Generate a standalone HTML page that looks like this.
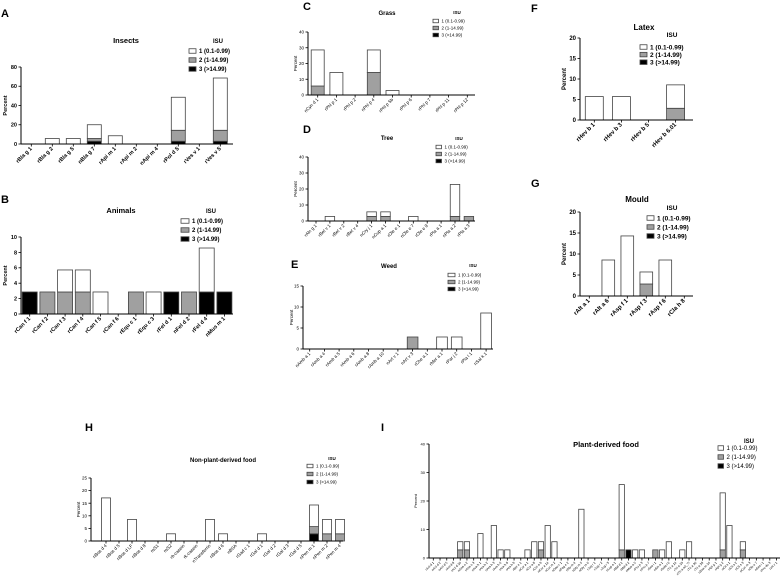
<!DOCTYPE html>
<html><head><meta charset="utf-8"><style>
html,body{margin:0;padding:0;background:#fff;}
svg{display:block;font-family:"Liberation Sans",Arial,sans-serif;}
</style></head><body>
<svg id="fig" width="782" height="586" viewBox="0 0 782 586" xmlns="http://www.w3.org/2000/svg"></svg>
<script>
// ---- Data (percent per ISU class) ----
const insectsCats = ["rBla g 1","rBla g 2","rBla g 5","nBla g 7","rApi m 1","rApi m 2","nApi m 4","rPol d 5","rVes v 1","rVes v 5"];
const insectsIsu1 = [0,5.71,5.71,14.3,8.57,0,0,34.3,0,54.3];
const insectsIsu2 = [0,0,0,2.86,0,0,0,11.4,0,11.4];
const insectsIsu3 = [0,0,0,2.86,0,0,0,2.86,0,2.86];
const insectsTicks = [0,20,40,60,80];

const animalsCats = ["rCan f 1","rCan f 2","rCan f 3","rCan f 4","rCan f 5","rCan f 6","rEqu c 1","rEqu c 3","rFel d 1","nFel d 2","rFel d 4","nMus m 1"];
const animalsIsu1 = [0,0,2.86,2.86,2.86,0,0,2.86,0,0,5.71,0];
const animalsIsu2 = [0,2.86,2.86,2.86,0,0,2.86,0,0,2.86,0,0];
const animalsIsu3 = [2.86,0,0,0,0,0,0,0,2.86,0,2.86,2.86];
const animalsTicks = [0,2,4,6,8,10];

const grassCats = ["nCyn d 1","rPhl p 1","rPhl p 2","nPhl p 4","rPhl p 5b","rPhl p 6","rPhl p 7","rPhl p 11","rPhl p 12"];
const grassIsu1 = [22.9,14.3,0,14.3,2.86,0,0,0,0];
const grassIsu2 = [5.71,0,0,14.3,0,0,0,0,0];
const grassIsu3 = [0,0,0,0,0,0,0,0,0];
const grassTicks = [0,10,20,30,40];

const treeCats = ["rAln g 1","rBet v 1","rBet v 2","rBet v 4","nCry j 1","nCup a 1","rOle e 1","nOle e 7","rOle e 9","rPla a 1","nPla a 2","rPla a 3"];
const treeIsu1 = [0,2.86,0,0,2.86,2.86,0,2.86,0,0,20,0];
const treeIsu2 = [0,0,0,0,2.86,2.86,0,0,0,0,2.86,2.86];
const treeIsu3 = [0,0,0,0,0,0,0,0,0,0,0,0];
const treeTicks = [0,10,20,30,40];

const weedCats = ["nAmb a 1","rAmb a 4","rAmb a 5","rAmb a 6","rAmb a 8","rAmb a 10","nArt v 1","nArt v 3","rChe a 1","rMer a 1","rPar j 2","rPla l 1","nSal k 1"];
const weedIsu1 = [0,0,0,0,0,0,0,0,0,2.86,2.86,0,8.57];
const weedIsu2 = [0,0,0,0,0,0,0,2.86,0,0,0,0,0];
const weedIsu3 = [0,0,0,0,0,0,0,0,0,0,0,0,0];
const weedTicks = [0,5,10,15];

const latexCats = ["rHev b 1","rHev b 3","rHev b 5","rHev b 6.01"];
const latexIsu1 = [5.71,5.71,0,5.71];
const latexIsu2 = [0,0,0,2.86];
const latexIsu3 = [0,0,0,0];
const latexTicks = [0,5,10,15,20];

const mouldCats = ["rAlt a 1","rAlt a 6","rAsp f 1","rAsp f 3","rAsp f 6","rCla h 8"];
const mouldIsu1 = [0,8.57,14.3,2.86,8.57,0];
const mouldIsu2 = [0,0,0,2.86,0,0];
const mouldIsu3 = [0,0,0,0,0,0];
const mouldTicks = [0,5,10,15,20];

const nonPlantCats = ["nBos d 4","nBos d 5","nBos d LF","nBos d 8","rαS1","rαS2","rb-casein","rk-casein","nTransferrin","nBos d 6","nBSA","rGad c 1","rGal d 1","rGal d 2","rGal d 3","rGal d 5","nPen m 1","nPen m 2","nPen m 4"];
const nonPlantIsu1 = [17.1,0,8.57,0,0,2.86,0,0,8.57,2.86,0,0,2.86,0,0,0,8.57,5.71,5.71];
const nonPlantIsu2 = [0,0,0,0,0,0,0,0,0,0,0,0,0,0,0,0,2.86,2.86,2.86];
const nonPlantIsu3 = [0,0,0,0,0,0,0,0,0,0,0,0,0,0,0,0,2.86,0,0];
const nonPlantTicks = [0,5,10,15,20,25];

const plantCats = ["rAct d 1","nAct d 2","nAct d 5","rAct d 8","rAct d 10","nAna o 2","rAna o 3","nAra h 1","rAra h 2","nAra h 3","rAra h 6","rAra h 8","rAra h 9","rBer e 1","nCor a 1","rCor a 8","rCor a 9","nCor a 14","rCuc m 2","nDau c 1","nFag e 2","rGly m 4","nGly m 5","nGly m 6","rJug r 1","rJug r 2","rJug r 3","nLup a 1","rMal d 1","rMal d 2","nMus a 5","rPru p 3","nPru p 7","rSes i 1","nSin a 1","rSola l 6","rTri a 14","rTri a 19","nTri a aA_TI","rTri a 36","rTri a 28","nZea m 14","rApi g 1","rApi g 2","nCit s 1","nCit s 2","nCit s 3","nCuc m 3","rOle e 7","nSes i 1","rPru du 3","rVit v 1"];
const plantIsu1 = [0,0,0,0,2.86,2.86,0,8.57,0,11.4,2.86,2.86,0,0,2.86,5.71,2.86,11.4,5.71,0,0,0,17.1,0,0,0,0,0,22.9,0,2.86,2.86,0,0,2.86,5.71,0,2.86,5.71,0,0,0,0,20,11.4,0,2.86,0,0,0,0,0];
const plantIsu2 = [0,0,0,0,2.86,2.86,0,0,0,0,0,0,0,0,0,0,2.86,0,0,0,0,0,0,0,0,0,0,0,2.86,0,0,0,0,2.86,0,0,0,0,0,0,0,0,0,2.86,0,0,2.86,0,0,0,0,0];
const plantIsu3 = [0,0,0,0,0,0,0,0,0,0,0,0,0,0,0,0,0,0,0,0,0,0,0,0,0,0,0,0,0,2.86,0,0,0,0,0,0,0,0,0,0,0,0,0,0,0,0,0,0,0,0,0,0];
const plantTicks = [0,10,20,30,40];

const legendLabels = ["1 (0.1-0.99)","2 (1-14.99)","3 (>14.99)"];
const fills = ["#ffffff","#a0a0a0","#000000"];

const NS = "http://www.w3.org/2000/svg";
const svg = document.getElementById("fig");
function mk(tag, attrs, parent) {
  const e = document.createElementNS(NS, tag);
  for (const k in attrs) e.setAttribute(k, attrs[k]);
  (parent || svg).appendChild(e);
  return e;
}

function panel(p) {
  const g = mk("g", {});
  
  
  const ymax = p.ticks[p.ticks.length - 1];
  const yS = v => p.y0 - (v / ymax) * (p.y0 - p.yTop);
  const xS = i => p.c0 + i * p.pitch;
  const fw = p.bold ? "bold" : "normal";
  // letter
  const L = mk("text", {x: p.lx, y: p.ly, "font-size": 11, "font-weight": "bold", fill: "#000"}, g);
  L.textContent = p.letter;
  
  
  // bars
  for (let i = 0; i < p.cats.length; i++) {
    const layers = [p.v3[i], p.v2[i], p.v1[i]];
    const cols = [fills[2], fills[1], fills[0]];
    let base = 0;
    for (let k = 0; k < 3; k++) {
      const v = layers[k];
      if (v > 0) {
        const r = mk("rect", {x: xS(i) - p.bw / 2, y: yS(base + v), width: p.bw, height: yS(base) - yS(base + v), fill: cols[k], stroke: "#444", "stroke-width": 0.8}, g);
        
        
        base += v;
      }
    }
  }
  // axes
  const ya = mk("line", {x1: p.x0, y1: p.yTop, x2: p.x0, y2: p.y0, stroke: "#000", "stroke-width": 1}, g);
  
  
  const xa = mk("line", {x1: p.x0, y1: p.y0, x2: p.xEnd, y2: p.y0, stroke: "#000", "stroke-width": 1}, g);
  
  
  for (const t of p.ticks) {
    mk("line", {x1: p.x0 - 2.5, y1: yS(t), x2: p.x0, y2: yS(t), stroke: "#000", "stroke-width": 0.8}, g);
    const tt = mk("text", {x: p.x0 - 4, y: yS(t) + p.fs * 0.35, "font-size": p.fs, "text-anchor": "end", "font-weight": fw}, g);
    tt.textContent = t;
    
    
  }
  for (let i = 0; i < p.cats.length; i++) {
    mk("line", {x1: xS(i), y1: p.y0, x2: xS(i), y2: p.y0 + 2.5, stroke: "#000", "stroke-width": 0.8}, g);
    const tl = mk("text", {x: xS(i) + 1, y: p.y0 + 5, "font-size": p.xfs, "text-anchor": "end", "font-weight": fw, transform: `rotate(-45 ${xS(i) + 1} ${p.y0 + 5})`}, g);
    tl.textContent = p.cats[i];
    
    
  }
  const yl = mk("text", {x: p.ylx, y: (p.y0 + p.yTop) / 2, "font-size": p.fs, "text-anchor": "middle", "font-weight": fw, transform: `rotate(-90 ${p.ylx} ${(p.y0 + p.yTop) / 2})`}, g);
  yl.textContent = "Percent";
  
  
  const ti = mk("text", {x: p.tx, y: p.ty, "font-size": p.tfs, "text-anchor": "middle", "font-weight": "bold"}, g);
  ti.textContent = p.title;
  
  
  const isu = mk("text", {x: p.isuX, y: p.isuY, "font-size": p.lfs, "text-anchor": "middle", "font-weight": "bold"}, g);
  isu.textContent = "ISU";
  
  
  for (let k = 0; k < 3; k++) {
    const ry = p.legY + k * p.legDy;
    const lg = mk("g", {}, g);
    
    
    mk("rect", {x: p.legX, y: ry - p.lbh / 2, width: p.lbw, height: p.lbh, fill: fills[k], stroke: "#444", "stroke-width": 0.8}, lg);
    const lt = mk("text", {x: p.legX + p.lbw + 3, y: ry + p.lfs * 0.35, "font-size": p.lfs, "font-weight": fw}, lg);
    lt.textContent = legendLabels[k];
  }
}

panel({name:"insects", letter:"A", lx:1, ly:17, cats:insectsCats, v1:insectsIsu1, v2:insectsIsu2, v3:insectsIsu3, ticks:insectsTicks,
  x0:21, y0:144, yTop:67, xEnd:233, c0:31.3, pitch:21, bw:14, fs:5.5, xfs:5.5, bold:true, ylx:7,
  title:"Insects", tx:126, ty:43, tfs:7.5, isuX:218, isuY:43, lfs:6, legX:189, legY:51, legDy:9, lbw:7, lbh:4.5});
panel({name:"animals", letter:"B", lx:1, ly:203, cats:animalsCats, v1:animalsIsu1, v2:animalsIsu2, v3:animalsIsu3, ticks:animalsTicks,
  x0:21, y0:314, yTop:237, xEnd:233, c0:29.7, pitch:17.7, bw:15, fs:5.5, xfs:5.5, bold:true, ylx:7,
  title:"Animals", tx:121, ty:213, tfs:7.5, isuX:211, isuY:213, lfs:6, legX:181, legY:221, legDy:9, lbw:8, lbh:4.5});
panel({name:"grass", letter:"C", lx:303, ly:10, cats:grassCats, v1:grassIsu1, v2:grassIsu2, v3:grassIsu3, ticks:grassTicks,
  x0:308, y0:95, yTop:32, xEnd:475, c0:317.7, pitch:18.7, bw:13, fs:4.5, xfs:4.5, bold:false, ylx:297,
  title:"Grass", tx:387, ty:15, tfs:6, isuX:457, isuY:14, lfs:4.5, legX:433, legY:21, legDy:7, lbw:5.5, lbh:3.5});
panel({name:"tree", letter:"D", lx:303, ly:133, cats:treeCats, v1:treeIsu1, v2:treeIsu2, v3:treeIsu3, ticks:treeTicks,
  x0:308, y0:221, yTop:157, xEnd:475, c0:316, pitch:13.9, bw:9.5, fs:4.5, xfs:4.5, bold:false, ylx:297,
  title:"Tree", tx:387, ty:140, tfs:6, isuX:459, isuY:140, lfs:4.5, legX:436, legY:147, legDy:7, lbw:5.5, lbh:3.5});
panel({name:"weed", letter:"E", lx:291, ly:268, cats:weedCats, v1:weedIsu1, v2:weedIsu2, v3:weedIsu3, ticks:weedTicks,
  x0:303, y0:349, yTop:286, xEnd:493, c0:309.7, pitch:14.7, bw:10.7, fs:4.5, xfs:4.5, bold:false, ylx:293,
  title:"Weed", tx:389, ty:268, tfs:6, isuX:473, isuY:267, lfs:4.5, legX:448, legY:275, legDy:7, lbw:7, lbh:3.5});
panel({name:"latex", letter:"F", lx:531, ly:12, cats:latexCats, v1:latexIsu1, v2:latexIsu2, v3:latexIsu3, ticks:latexTicks,
  x0:580, y0:120, yTop:38, xEnd:693, c0:594.3, pitch:27.1, bw:18, fs:6, xfs:6, bold:true, ylx:566,
  title:"Latex", tx:644, ty:30, tfs:8, isuX:672, isuY:37, lfs:6.5, legX:640, legY:47, legDy:7.6, lbw:7, lbh:4.5});
panel({name:"mould", letter:"G", lx:531, ly:187, cats:mouldCats, v1:mouldIsu1, v2:mouldIsu2, v3:mouldIsu3, ticks:mouldTicks,
  x0:580, y0:296, yTop:212, xEnd:693, c0:589.3, pitch:19, bw:12.7, fs:6, xfs:6, bold:true, ylx:566,
  title:"Mould", tx:637, ty:202, tfs:8, isuX:672, isuY:210, lfs:6.5, legX:647, legY:218, legDy:9, lbw:7, lbh:4.5});
panel({name:"non-plant-food", letter:"H", lx:85, ly:431, cats:nonPlantCats, v1:nonPlantIsu1, v2:nonPlantIsu2, v3:nonPlantIsu3, ticks:nonPlantTicks,
  x0:91, y0:541, yTop:478, xEnd:343, c0:106, pitch:13, bw:9, fs:4.5, xfs:4.5, bold:false, ylx:80,
  title:"Non-plant-derived food", tx:223, ty:462, tfs:6, isuX:332, isuY:460, lfs:4.5, legX:307, legY:466, legDy:8, lbw:6, lbh:3.5});
panel({name:"plant-food", letter:"I", lx:381, ly:431, cats:plantCats, v1:plantIsu1, v2:plantIsu2, v3:plantIsu3, ticks:plantTicks,
  x0:429, y0:558, yTop:444, xEnd:780, c0:433.3, pitch:6.73, bw:5.3, fs:4, xfs:3.2, bold:false, ylx:417,
  title:"Plant-derived food", tx:606, ty:447, tfs:7.5, isuX:749, isuY:443, lfs:6, legX:718, legY:448, legDy:9, lbw:5.5, lbh:4.5});
</script>
</body></html>
